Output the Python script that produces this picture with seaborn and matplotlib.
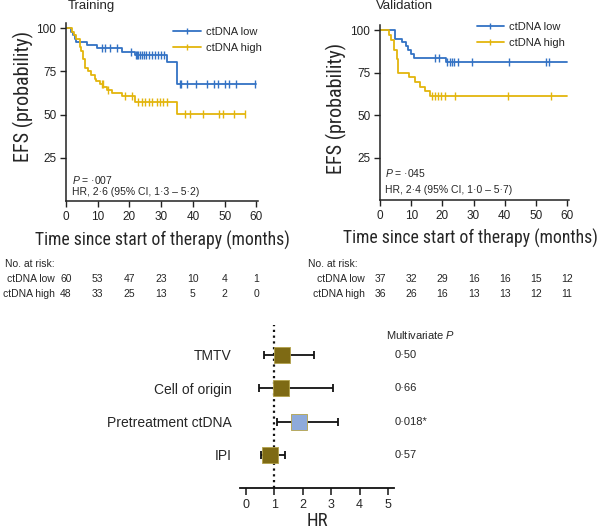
import numpy as np
import pandas as pd
import matplotlib.pyplot as plt
import matplotlib.transforms as mtransforms
from matplotlib import font_manager as fm
from matplotlib.lines import Line2D
import seaborn as sns

sns.set_theme(style="ticks")
plt.rcParams['font.family'] = ['Liberation Sans', 'DejaVu Sans']
plt.rcParams['mathtext.fontset'] = 'custom'
plt.rcParams['mathtext.it'] = 'Liberation Sans:italic'
plt.rcParams['mathtext.rm'] = 'Liberation Sans'

BLUE = "#3372c4"
GOLD = "#e3b50d"
OLIVE = "#7e6a14"
LIGHTBLUE = "#8eaadb"

# pick a condensed face for the big axis labels if one is installed
_fonts = [(f.name, str(f.stretch)) for f in fm.fontManager.ttflist]
if any(n == 'Liberation Sans Narrow' for n, _ in _fonts):
    BIG = dict(family='Liberation Sans Narrow')
    scale = 1.0
elif any(n == 'Roboto Condensed' for n, _ in _fonts):
    BIG = dict(family='Roboto Condensed')
    scale = 1.0
elif any(n == 'DejaVu Sans' and 'condensed' in s for n, s in _fonts):
    BIG = dict(family='DejaVu Sans', fontstretch='condensed')
    scale = 0.93
else:
    BIG = dict(family='Liberation Sans')
    scale = 0.85

# Kaplan-Meier steps (months, EFS %)
train_low_t = [0, 1.7, 2.3, 2.8, 3.2, 6.5, 9.8, 17.5, 21.7, 31.8, 35.0, 60.0]
train_low_s = [100, 97.8, 96, 94, 92, 90.5, 88.5, 86.5, 84.3, 80.5, 67.8, 67.8]
train_low_cens = [11.4, 12.4, 14, 16.1, 20.6, 22, 22.4, 22.8, 23.3, 23.8, 24.5, 25.3, 26,
                  27, 28, 29, 30, 31, 35.8, 36.3, 38, 41, 44.5, 46.5, 48, 50, 51.5, 53.5, 59.5]
train_high_t = [0, 1.9, 2.5, 3.0, 4.5, 4.8, 5.3, 6.0, 7.0, 8.0, 9.0, 9.5, 10.7, 11.8, 12.8,
                14.4, 17.6, 21.8, 35.0, 56.5]
train_high_s = [100, 97.8, 96, 93.8, 89, 86.7, 82, 77, 75.5, 73, 70.8, 69.5, 67.8, 66, 64.5,
                62.5, 60.5, 57.5, 50.5, 50.5]
train_high_cens = [11.2, 11.7, 13.3, 18.6, 20.7, 22.8, 23.9, 24.9, 26, 27, 28.6, 29.7, 30.7,
                   31.8, 37.5, 39.2, 43.3, 48.3, 49.4, 53, 56.5]

val_low_t = [0, 4.8, 7.0, 8.3, 9.0, 9.8, 10.9, 21.1, 60.0]
val_low_s = [100, 94.5, 93, 90.5, 88.2, 86.2, 83.7, 81.1, 81.1]
val_low_cens = [17.7, 19.0, 21.6, 22.3, 23.0, 23.7, 25.0, 29.5, 41.3, 53.4, 54.1]
val_high_t = [0, 2.9, 3.6, 4.5, 5.3, 5.9, 9.3, 11.2, 12.8, 14.3, 16.0, 60.0]
val_high_s = [100, 97, 94, 88, 83, 75, 72.2, 69.4, 66.7, 63.9, 61.1, 61.1]
val_high_cens = [16.8, 17.7, 18.7, 19.7, 21.0, 24.1, 41.1, 55.0]

risk_times = [0, 10, 20, 30, 40, 50, 60]
train_risk_low = [60, 53, 47, 23, 10, 4, 1]
train_risk_high = [48, 33, 25, 13, 5, 2, 0]
val_risk_low = [37, 32, 29, 16, 16, 15, 12]
val_risk_high = [36, 26, 16, 13, 13, 12, 11]

# forest plot
forest_vars = ["TMTV", "Cell of origin", "Pretreatment ctDNA", "IPI"]
forest_hr = [1.26, 1.22, 1.88, 0.85]
forest_lo = [0.63, 0.47, 1.10, 0.53]
forest_hi = [2.40, 3.05, 3.23, 1.37]
forest_p = ["0·50", "0·66", "0·018*", "0·57"]
forest_col = [OLIVE, OLIVE, LIGHTBLUE, OLIVE]

W, H = 600, 529
fig = plt.figure(figsize=(6, 5.29), dpi=100)


def box(x0, y0, x1, y1):
    # pixel box (top-left origin) -> figure fraction
    return [x0 / W, 1 - y1 / H, (x1 - x0) / W, (y1 - y0) / H]


def at(t, s, c):
    idx = np.searchsorted(t, c, side='right') - 1
    return np.array(s)[idx]


def km_panel(ax, title, title_x, low, high, risk, texts, ylab_pos, xlab_x, leg_pos, lab_off, risk_x):
    for (t, s, c), col in zip([low, high], [BLUE, GOLD]):
        sns.lineplot(x=t, y=s, drawstyle='steps-post', estimator=None, color=col,
                     linewidth=1.3, ax=ax)
        sns.scatterplot(x=c, y=at(t, s, c), marker='|', s=28, color=col,
                        linewidth=1.0, ax=ax, zorder=3)
    ax.set_xlim(0, 60.5)
    ax.set_ylim(0, 103)
    ax.set_xticks(risk_times)
    ax.set_yticks([25, 50, 75, 100])
    ax.tick_params(labelsize=8.5, length=4, width=1, pad=3, colors='#222222')
    for sp in ['top', 'right']:
        ax.spines[sp].set_visible(False)
    for sp in ['left', 'bottom']:
        ax.spines[sp].set_linewidth(1.1)
        ax.spines[sp].set_color('#222222')
    ax.set_xlabel("Time since start of therapy (months)", fontsize=12.7 * scale, **BIG)
    ax.set_ylabel("EFS (probability)", fontsize=14.5 * scale, **BIG)
    ax.xaxis.set_label_coords(xlab_x, -0.165)
    ax.yaxis.set_label_coords(*ylab_pos)

    handles = [Line2D([], [], color=BLUE, lw=1.3, marker='|', markersize=5),
               Line2D([], [], color=GOLD, lw=1.3, marker='|', markersize=5)]
    ax.legend(handles, ["ctDNA low", "ctDNA high"], loc='upper left', bbox_to_anchor=leg_pos,
              frameon=False, fontsize=8, handlelength=2.5, handletextpad=0.45,
              borderpad=0, borderaxespad=0, labelspacing=0.55)

    for tx, ty, s in texts:
        ax.text(tx, ty, s, transform=ax.transAxes, fontsize=7.5, va='center')

    fig.text(title_x / W, 1 - 9 / H, title, fontsize=9.5, va='baseline', ha='left')

    # number at risk table
    trans = mtransforms.blended_transform_factory(ax.transData, fig.transFigure)
    fig.text(risk_x / W, 1 - 264 / H, "No. at risk:", fontsize=7.5, va='center')
    for row_y, lab, vals in [(279, "ctDNA low", risk[0]), (294, "ctDNA high", risk[1])]:
        yy = 1 - row_y / H
        fig.text(ax.get_position().x0 - lab_off / W, yy, lab, fontsize=7.5, va='center', ha='right')
        for tt, v in zip(risk_times, vals):
            ax.text(tt, yy, str(v), transform=trans, fontsize=7.5, va='center', ha='center')


ax1 = fig.add_axes(box(66, 23, 258, 201))
km_panel(ax1, "Training", 68,
         (train_low_t, train_low_s, train_low_cens),
         (train_high_t, train_high_s, train_high_cens),
         (train_risk_low, train_risk_high),
         [(0.03, 0.119, "$P$ = ·007"), (0.03, 0.052, "HR, 2·6 (95% CI, 1·3 – 5·2)")],
         (-0.169, 0.585), 0.5, (0.557, 0.979), 11, 5)

ax2 = fig.add_axes(box(380, 25, 568.6, 200))
km_panel(ax2, "Validation", 376,
         (val_low_t, val_low_s, val_low_cens),
         (val_high_t, val_high_s, val_high_cens),
         (val_risk_low, val_risk_high),
         [(0.027, 0.152, "$P$ = ·045"), (0.027, 0.057, "HR, 2·4 (95% CI, 1·0 – 5·7)")],
         (-0.175, 0.526), 0.482, (0.512, 1.018), 15, 308)

# forest plot
ax3 = fig.add_axes(box(240.3, 325, 393.7, 488))
rows = np.arange(len(forest_vars))
ax3.axvline(1, color='#111111', linestyle=(0, (1, 1.6)), linewidth=1.6, zorder=1)
ax3.errorbar(forest_hr, rows,
             xerr=[np.array(forest_hr) - np.array(forest_lo), np.array(forest_hi) - np.array(forest_hr)],
             fmt='none', ecolor='#111111', elinewidth=1.3, capsize=3.2, capthick=1.3, zorder=2)
fdf = pd.DataFrame({"hr": forest_hr, "row": rows, "var": forest_vars})
sns.scatterplot(data=fdf, x="hr", y="row", hue="var", palette=forest_col, marker='s', s=130,
                edgecolor='#b3a24a', linewidth=0.6, legend=False, ax=ax3, zorder=3)
ax3.set_xlim(-0.2, 5.2)
ax3.set_ylim(3.99, -0.9)
ax3.set_xticks([0, 1, 2, 3, 4, 5])
ax3.set_yticks(rows)
ax3.set_yticklabels(forest_vars)
ax3.tick_params(axis='y', length=0, pad=6.5, labelsize=10)
ax3.tick_params(axis='x', labelsize=9, length=5, width=1.2, pad=3)
for sp in ['top', 'right', 'left']:
    ax3.spines[sp].set_visible(False)
ax3.spines['bottom'].set_linewidth(1.3)
ax3.spines['bottom'].set_color('#111111')
ax3.set_xlabel("HR", fontsize=13.5 * scale, **BIG)
ax3.xaxis.set_label_coords(0.5, -0.145)
ax3.set_ylabel("")

ptrans = mtransforms.blended_transform_factory(fig.transFigure, ax3.transData)
for r, p in zip(rows, forest_p):
    ax3.text(395 / W, r, p, transform=ptrans, fontsize=8, va='center', ha='left')
fig.text(386 / W, 1 - 335 / H, "Multivariate $P$", fontsize=8, va='center', ha='left')

fig.savefig("out.png", dpi=100)
